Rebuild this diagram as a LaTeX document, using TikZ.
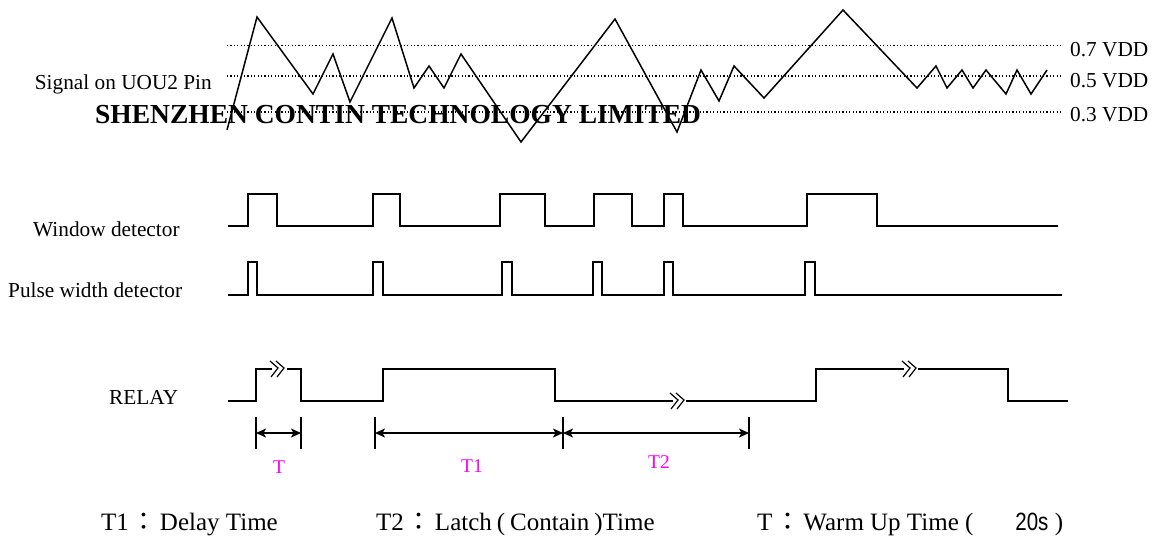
\documentclass[tikz,border=0pt]{standalone}
\usepackage{fontspec}
\setmainfont{Liberation Serif}
\newfontfamily\cjkfont{Noto Sans CJK TC}
\newfontfamily\arialfont{Liberation Sans}
\usetikzlibrary{arrows.meta}
\definecolor{mag}{RGB}{255,0,255}
\newcommand\fwcolon{\makebox[31pt]{\cjkfont ：}}
\begin{document}
\begin{tikzpicture}[x=1pt,y=-1pt,
  wave/.style={line width=1.5pt, line join=miter},
  vdd/.style={line width=1.2pt, dash pattern=on 1.2pt off 2.2pt},
  lab/.style={font=\fontsize{21.3}{24}\selectfont, inner sep=0pt},
  title/.style={font=\fontsize{27.5}{30}\selectfont\bfseries, inner sep=0pt},
  bot/.style={font=\fontsize{25}{28}\selectfont, inner sep=0pt},
  tlab/.style={font=\fontsize{19.5}{22}\selectfont, text=mag, inner sep=0pt},
  tickln/.style={line width=1.3pt},
  dimar/.style={line width=1.3pt},
  brk/.pic={\draw[line width=1.2pt] (-9,-8) -- (-1,-1) -- (-8,8) (-3,-8) -- (5,-1) -- (-2,8);}
]
\useasboundingbox (0,0) rectangle (1156,536);

% watermark title (under the lines)
\node[title, anchor=base west] (wm) at (95,123) {SHENZHEN CONTIN TECHNOLOGY LIMITED};

% threshold lines
\coordinate (l7a) at (227,45.5); \coordinate (l7b) at (1061,45.5);
\coordinate (l5a) at (227,76);   \coordinate (l5b) at (1061,76);
\coordinate (l3a) at (227,112);  \coordinate (l3b) at (1061,112);
\draw[vdd] (l7a) -- (l7b);
\draw[vdd] (l5a) -- (l5b);
\draw[vdd] (l3a) -- (l3b);
\node[lab, anchor=base west] (v7) at (1070,56.5) {0.7 VDD};
\node[lab, anchor=base west] (v5) at (1070,87.5) {0.5 VDD};
\node[lab, anchor=base west] (v3) at (1070,121.5) {0.3 VDD};

% labels
\node[lab, anchor=base east] (sig) at (212,89) {Signal on UOU2 Pin};
\node[lab, anchor=base west] (win) at (33,236) {Window detector};
\node[lab, anchor=base west] (pwd) at (8,297) {Pulse width detector};
\node[lab, anchor=base west] (rly) at (109,404) {RELAY};

% signal
\draw[wave] (227,130) -- (257,17) -- (313,94) -- (333,54) -- (350,102) -- (392,18)
 -- (414,88) -- (429,66) -- (444,88) -- (461,54) -- (521,142) -- (615,19)
 -- (677,132) -- (701,70) -- (719,101) -- (734,66) -- (764,98) -- (843,10)
 -- (917,88) -- (936,66) -- (947,88) -- (962,70) -- (973,88) -- (986,70)
 -- (1006,94) -- (1017,70) -- (1031,94) -- (1047,70);

% window detector
\draw[wave] (228,226) -- (248,226) -- (248,194) -- (277,194) -- (277,226)
 -- (373,226) -- (373,194) -- (400,194) -- (400,226)
 -- (500,226) -- (500,194) -- (545,194) -- (545,226)
 -- (594,226) -- (594,194) -- (632,194) -- (632,226)
 -- (664,226) -- (664,194) -- (683,194) -- (683,226)
 -- (807,226) -- (807,194) -- (877,194) -- (877,226) -- (1058,226);

% pulse width detector
\draw[wave] (228,295) -- (248,295) -- (248,262) -- (257,262) -- (257,295)
 -- (373,295) -- (373,262) -- (383,262) -- (383,295)
 -- (502,295) -- (502,262) -- (512,262) -- (512,295)
 -- (593,295) -- (593,262) -- (602,262) -- (602,295)
 -- (664,295) -- (664,262) -- (673,262) -- (673,295)
 -- (805,295) -- (805,262) -- (815,262) -- (815,295) -- (1062,295);

% relay
\draw[wave] (228,401) -- (256,401) -- (256,369) -- (272,369);
\draw[wave] (287,369) -- (301,369) -- (301,401) -- (383,401) -- (383,369)
 -- (555,369) -- (555,401) -- (673,401);
\draw[wave] (686,401) -- (816,401) -- (816,369) -- (904,369);
\draw[wave] (918,369) -- (1008,369) -- (1008,401) -- (1068,401);
\pic at (279,369) {brk};
\pic at (679,401) {brk};
\pic at (911,369) {brk};

% dimension marks
\coordinate (Ta) at (256,433);
\coordinate (Tb) at (301,433);
\coordinate (T1a) at (375,433);
\coordinate (T1b) at (563,433);
\coordinate (T2b) at (749,433);
\foreach \c in {Ta,Tb,T1a,T1b,T2b}
  \draw[tickln] ([yshift=16pt]\c) -- ([yshift=-16pt]\c);
\draw[dimar, {Stealth[length=10pt,width=9pt,inset=2.5pt]}-{Stealth[length=10pt,width=9pt,inset=2.5pt]}] (Ta) -- (Tb);
\draw[dimar, {Stealth[length=10pt,width=9pt,inset=2.5pt]}-{Stealth[length=10pt,width=9pt,inset=2.5pt]}] (T1a) -- (T1b);
\draw[dimar, {Stealth[length=10pt,width=9pt,inset=2.5pt]}-{Stealth[length=10pt,width=9pt,inset=2.5pt]}] (T1b) -- (T2b);
\node[tlab, anchor=base] (tT) at (279,473) {T};
\node[tlab, anchor=base] (tT1) at (472,472) {T1};
\node[tlab, anchor=base] (tT2) at (659,468) {T2};

% legend
\node[bot, anchor=base west] (d1) at (101,530) {T1\fwcolon Delay Time};
\node[bot, anchor=base west] (d2) at (376,530) {\spaceskip=5pt T2\fwcolon Latch ( Contain )Time};
\node[bot, anchor=base west] (d3) at (757,530) {T\fwcolon Warm Up Time (\hspace{42pt}{\arialfont\scalebox{0.82}[1]{20s}} )};
\end{tikzpicture}
\end{document}
